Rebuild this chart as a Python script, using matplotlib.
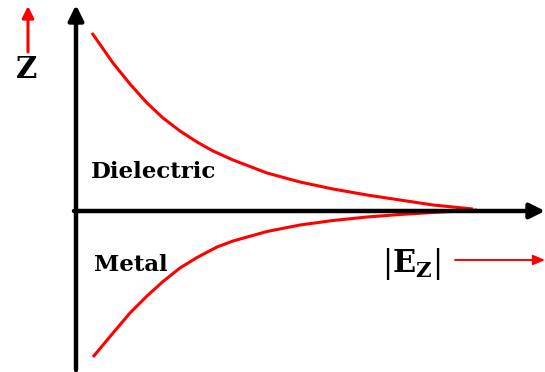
import matplotlib
matplotlib.use("Agg")
import matplotlib.pyplot as plt

# Field profile |Ez| vs z (arbitrary units)
upper_ez = [16, 37, 54, 71, 87, 104, 121, 137, 157, 191, 224, 257, 291, 324, 357, 397]
upper_z = [178, 148, 127, 108, 93, 80, 69, 60, 51, 38, 29, 22, 16, 11, 6, 2]
lower_ez = [17, 37, 54, 71, 87, 104, 121, 141, 157, 191, 224, 257, 291, 324, 357, 401]
lower_z = [-146, -122, -102, -85, -70.5, -57, -46.5, -36, -30, -20.5, -14, -9.5, -6,
           -3.5, -1.5, 1]

region_labels = ["Dielectric", "Metal"]

plt.rcParams["mathtext.fontset"] = "dejavuserif"

fig = plt.figure(figsize=(5.45, 3.72), dpi=100)
ax = fig.add_axes([0, 0, 1, 1])
ax.set_xlim(-76, 469)
ax.set_ylim(-161, 211)
ax.axis("off")

# black axes with arrow heads
black = dict(arrowstyle="-|>,head_length=0.9,head_width=0.45", color="black",
             lw=3.2, shrinkA=0, shrinkB=0)
ax.annotate("", xy=(0, 206), xytext=(0, -159), arrowprops=black)
ax.annotate("", xy=(469, 0), xytext=(-2, 0), arrowprops=black)

# field curves
ax.plot(upper_ez, upper_z, color="red", lw=2.2, solid_capstyle="butt",
        solid_joinstyle="round")
ax.plot(lower_ez, lower_z, color="red", lw=2.2, solid_capstyle="butt",
        solid_joinstyle="round")

# red direction arrows
ax.annotate("", xy=(-48, 205), xytext=(-48, 159),
            arrowprops=dict(arrowstyle="-|>,head_length=0.7,head_width=0.35",
                            color="red", lw=2.2, shrinkA=0, shrinkB=0))
ax.annotate("", xy=(469, -49), xytext=(379, -49),
            arrowprops=dict(arrowstyle="-|>,head_length=0.7,head_width=0.3",
                            color="red", lw=1.4, shrinkA=0, shrinkB=0))

txt = dict(family="DejaVu Serif", weight="bold", color="black",
           ha="center", va="center")
ax.text(-49, 141, "Z", fontsize=21, **txt)
ax.text(78, 39, region_labels[0], fontsize=16.5, **txt)
ax.text(55, -54, region_labels[1], fontsize=16.5, **txt)
ax.text(335, -53, r"$|\mathbf{E}_{\mathbf{Z}}|$", fontsize=22, **txt)

fig.savefig("out.png", dpi=100)
plt.close(fig)
